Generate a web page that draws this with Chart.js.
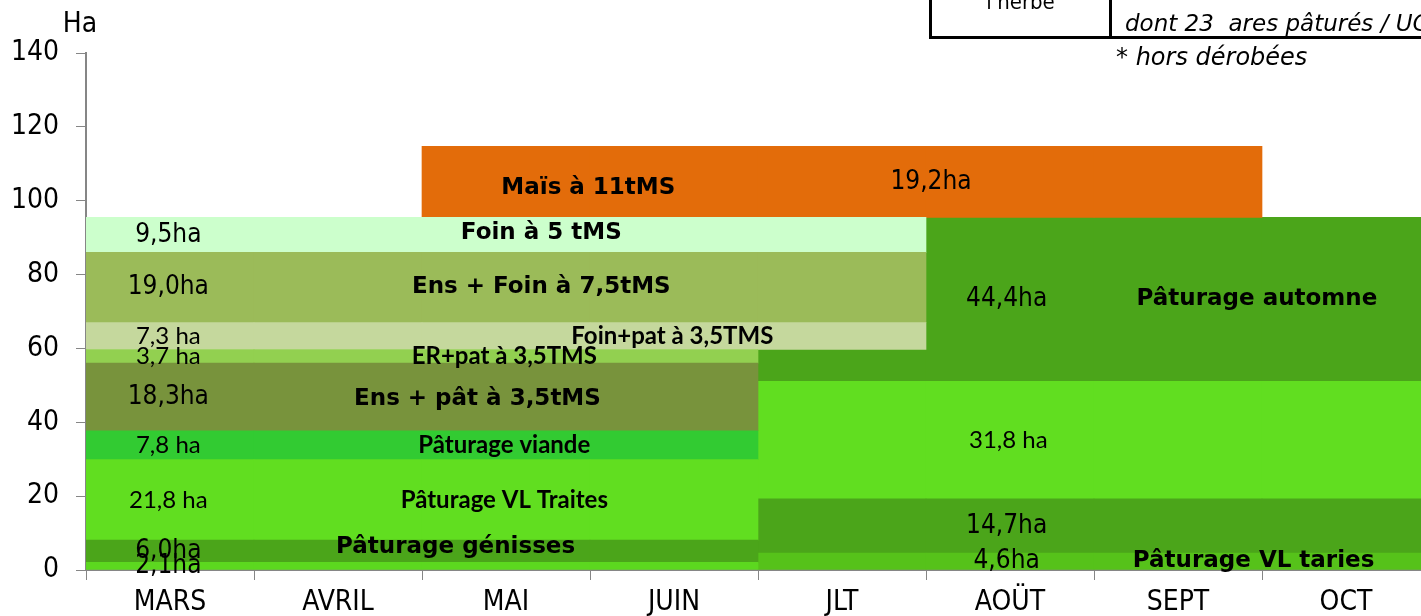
<!DOCTYPE html>
<html>
<head>
<meta charset="utf-8">
<script src="https://cdn.jsdelivr.net/npm/chart.js@4"></script>
<style>
	html, body { margin: 0; padding: 0; background: #fff; overflow: hidden; }
	#cadre { position: relative; width: 1421px; height: 616px; overflow: hidden; }
	#grafico { position: absolute; left: 0; top: 0; }
	.tableau { position: absolute; left: 929px; top: -30px; width: 560px; height: 63px; border: 3px solid #000; }
	.tableau .sep { position: absolute; left: 177px; top: 0; bottom: 0; border-left: 3px solid #000; }
	.tableau .herbe { position: absolute; left: 0; width: 177px; top: 16px; text-align: center; font: 22px "DejaVu Sans Condensed", "DejaVu Sans"; }
	.tableau .dont { position: absolute; left: 193px; top: 37px; white-space: nowrap; font: italic 23px "DejaVu Sans"; }
	.note { position: absolute; left: 1116px; top: 43px; font: italic 24px "DejaVu Sans"; }
</style>
</head>
<body>
<div id="cadre">
	<canvas id="grafico" width="1440" height="616"></canvas>
	<div class="tableau"><div class="sep"></div><div class="herbe">l'herbe</div><div class="dont">dont 23&nbsp; ares pâturés / UG</div></div>
	<div class="note">* hors dérobées</div>
</div>
<script>
// Mois (axe X)
const mois = ["MARS", "AVRIL", "MAI", "JUIN", "JLT", "AOÜT", "SEPT", "OCT"];

// Blocs de surface : nom, surface affichée, bas / haut (ha), mois de début / fin
const blocNoms = [
	"", "Pâturage génisses", "Pâturage VL Traites", "Pâturage viande",
	"Ens + pât à 3,5tMS", "ER+pat à 3,5TMS", "Foin+pat à 3,5TMS",
	"Ens + Foin à 7,5tMS", "Foin à 5 tMS", "Maïs à 11tMS",
	"Pâturage VL taries", "", "", "Pâturage automne",
];
const blocSurfaces = [
	"2,1ha", "6,0ha", "21,8 ha", "7,8 ha", "18,3ha", "3,7 ha", "7,3 ha",
	"19,0ha", "9,5ha", "19,2ha", "4,6ha", "14,7ha", "31,8 ha", "44,4ha",
];
const blocBas = [0, 2.1, 8.1, 29.9, 37.7, 56.0, 59.7, 67.0, 86.0, 95.5, 0, 4.6, 19.3, 51.1];
const blocHaut = [2.1, 8.1, 29.9, 37.7, 56.0, 59.7, 67.0, 86.0, 95.5, 114.7, 4.6, 19.3, 51.1, 95.5];
const blocDebut = [0, 0, 0, 0, 0, 0, 0, 0, 0, 2, 4, 4, 4, 4];
const blocFin = [4, 4, 4, 4, 4, 4, 5, 5, 5, 7, 8, 8, 8, 8];

// Couleurs des blocs
const couleurs = [
	"#5cd81f", "#4ba51a", "#61de20", "#32cb32", "#78933c", "#92d050", "#c5d89d",
	"#9bbb59", "#ccffcc", "#e36c0a", "#56c21a", "#4ba51a", "#61de20", "#4ba51a",
];

// Position des textes : horizontale en mois depuis le bord gauche, décalage vertical du nom en ha
const xNom = [0, 2.2, 2.49, 2.49, 2.33, 2.49, 3.49, 2.71, 2.71, 2.99, 6.95, 0, 0, 6.97];
const xSurface = [0.49, 0.49, 0.49, 0.49, 0.49, 0.49, 0.49, 0.49, 0.49, 5.03, 5.48, 5.48, 5.49, 5.48];
const decalNom = [0, 1.2, 0, 0, -0.5, 0, 0, 0, 0.5, -1.8, 0, 0, 0, 0];
// Textes en style "Calibri" (sinon style "Tahoma")
const styleCalibri = [false, false, true, true, false, true, true, false, false, false, false, false, true, false];

const datasets = blocNoms.map((nom, i) => ({
	label: nom || blocSurfaces[i],
	type: "bar",
	data: mois.map((m, j) => (j >= blocDebut[i] && j < blocFin[i] ? [blocBas[i], blocHaut[i]] : null)),
	backgroundColor: couleurs[i],
	borderWidth: 0,
	barPercentage: 1,
	categoryPercentage: 1,
	grouped: false,
	// le pâturage d'automne passe sous les blocs de foin
	order: i === 13 ? 1 : 0,
}));

const police = "'DejaVu Sans Condensed', 'DejaVu Sans'";

// Plugin pour écrire les textes dans les blocs
const textes = {
	id: "textes",
	afterDatasetsDraw(chart) {
		const { ctx, scales } = chart;
		const x = scales.x;
		const y = scales.y;
		const largeur = x.width / mois.length;
		ctx.save();
		ctx.fillStyle = "#000";
		ctx.textBaseline = "middle";
		ctx.textAlign = "center";
		blocNoms.forEach((nom, i) => {
			const milieu = (blocBas[i] + blocHaut[i]) / 2;
			ctx.font = styleCalibri[i] ? "24px Lato" : "26px " + police;
			ctx.fillText(blocSurfaces[i], x.left + xSurface[i] * largeur, y.getPixelForValue(milieu));
			if (nom) {
				ctx.font = styleCalibri[i] ? "bold 24px Lato" : "bold 23px 'DejaVu Sans'";
				ctx.fillText(nom, x.left + xNom[i] * largeur, y.getPixelForValue(milieu + decalNom[i]));
			}
		});
		// unité de l'axe
		ctx.font = "28px " + police;
		ctx.fillText("Ha", chart.chartArea.left - 6, chart.chartArea.top - 28);
		ctx.restore();
	},
};

const ctx = document.getElementById("grafico");
const graph = new Chart(ctx, {
	data: {
		labels: mois,
		datasets: datasets,
	},
	options: {
		responsive: false,
		animation: false,
		layout: { padding: { top: 53, right: 10, left: 0, bottom: 0 } },
		plugins: {
			legend: { display: false },
			tooltip: { enabled: false },
		},
		scales: {
			x: {
				type: "category",
				offset: true,
				grid: { offset: true, drawOnChartArea: false, drawTicks: true, tickLength: 10, color: "#868686" },
				border: { color: "#868686", width: 2 },
				ticks: { color: "#000", font: { family: police, size: 28 }, padding: 6, maxRotation: 0 },
				afterFit: (axis) => { axis.height = 46; },
			},
			y: {
				type: "linear",
				min: 0,
				max: 140,
				grid: { drawOnChartArea: false, drawTicks: true, tickLength: 10, color: "#868686" },
				border: { color: "#868686", width: 2 },
				ticks: { stepSize: 20, color: "#000", font: { family: police, size: 28 }, padding: 17 },
				afterFit: (axis) => { axis.width = 86; },
			},
		},
	},
	plugins: [textes],
});
</script>
</body>
</html>
